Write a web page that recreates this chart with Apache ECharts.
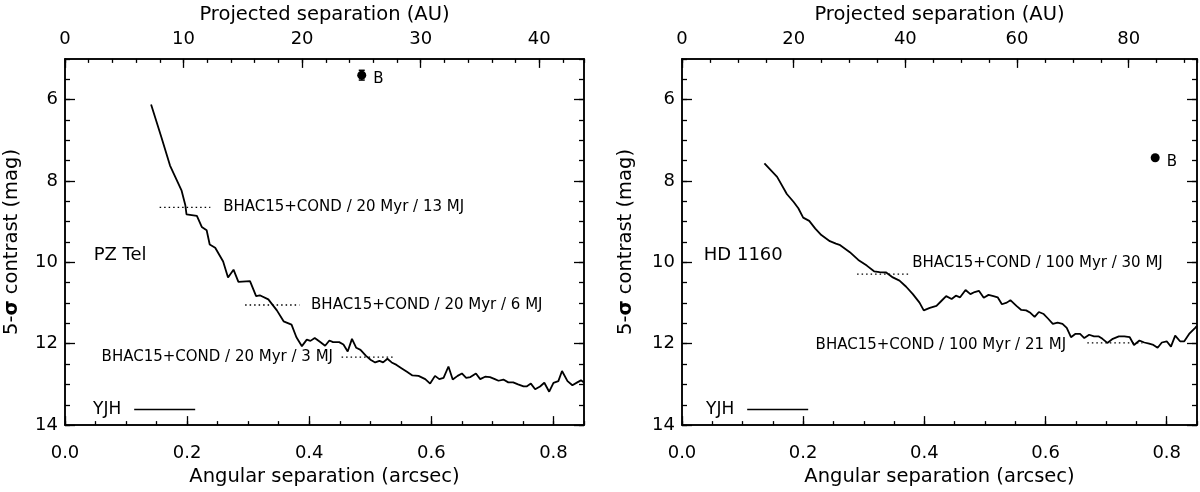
<!DOCTYPE html>
<html>
<head>
<meta charset="utf-8">
<script src="https://cdn.jsdelivr.net/npm/echarts@6/dist/echarts.min.js"></script>
<style>
  html, body { margin: 0; padding: 0; background: #fff; }
  #main { width: 1200px; height: 492px; }
</style>
</head>
<body>
<div id="main"></div>
<script>
// PZ Tel contrast curve (arcsec, mag)
let pzSep = [0.141, 0.158, 0.172, 0.191, 0.197, 0.199, 0.216, 0.224, 0.232, 0.237, 0.246, 0.259, 0.267, 0.276,
    0.284, 0.303, 0.313, 0.319, 0.333, 0.347, 0.358, 0.371, 0.379, 0.388, 0.396, 0.402, 0.409, 0.418, 0.426,
    0.433, 0.439, 0.449, 0.456, 0.463, 0.470, 0.477, 0.484, 0.493, 0.501, 0.508, 0.515, 0.521, 0.528, 0.535,
    0.543, 0.551, 0.560, 0.569, 0.579, 0.590, 0.598, 0.606, 0.613, 0.620, 0.628, 0.635, 0.643, 0.650, 0.657,
    0.664, 0.673, 0.680, 0.688, 0.696, 0.704, 0.710, 0.718, 0.726, 0.734, 0.742, 0.751, 0.756, 0.763, 0.770,
    0.778, 0.785, 0.793, 0.800, 0.808, 0.814, 0.823, 0.831, 0.839, 0.845, 0.850];
let pzMag = [6.12, 6.93, 7.62, 8.24, 8.59, 8.82, 8.86, 9.13, 9.21, 9.56, 9.64, 9.98, 10.37, 10.18,
    10.48, 10.46, 10.83, 10.81, 10.91, 11.18, 11.45, 11.53, 11.84, 12.06, 11.90, 11.93, 11.86, 11.96, 12.05,
    11.92, 11.96, 11.96, 12.02, 12.19, 11.88, 12.10, 12.15, 12.30, 12.40, 12.46, 12.42, 12.46, 12.37, 12.46,
    12.52, 12.60, 12.69, 12.78, 12.79, 12.87, 12.98, 12.79, 12.87, 12.84, 12.56, 12.88, 12.79, 12.73, 12.84,
    12.82, 12.73, 12.87, 12.81, 12.82, 12.87, 12.91, 12.88, 12.95, 12.95, 13.00, 13.05, 13.05, 12.98, 13.12,
    13.05, 12.96, 13.18, 12.96, 12.92, 12.67, 12.92, 13.02, 12.95, 12.90, 12.95];

// HD 1160 contrast curve (arcsec, mag)
let hdSep = [0.136, 0.157, 0.173, 0.184, 0.192, 0.200, 0.210, 0.220, 0.230, 0.244, 0.254, 0.260, 0.277, 0.291,
    0.305, 0.317, 0.326, 0.337, 0.348, 0.359, 0.370, 0.381, 0.392, 0.399, 0.409, 0.420, 0.428, 0.436, 0.445,
    0.452, 0.459, 0.468, 0.476, 0.483, 0.490, 0.498, 0.506, 0.514, 0.521, 0.528, 0.536, 0.542, 0.552, 0.560,
    0.568, 0.575, 0.582, 0.589, 0.597, 0.604, 0.612, 0.620, 0.628, 0.635, 0.642, 0.649, 0.657, 0.664, 0.672,
    0.680, 0.688, 0.694, 0.702, 0.711, 0.721, 0.730, 0.739, 0.746, 0.755, 0.763, 0.771, 0.778, 0.785, 0.792,
    0.800, 0.807, 0.814, 0.822, 0.829, 0.837, 0.847, 0.850];
let hdMag = [7.57, 7.90, 8.32, 8.51, 8.67, 8.90, 8.98, 9.17, 9.33, 9.48, 9.54, 9.57, 9.75, 9.94,
    10.08, 10.22, 10.24, 10.25, 10.37, 10.45, 10.60, 10.78, 10.99, 11.18, 11.12, 11.07, 10.95, 10.83, 10.90,
    10.82, 10.86, 10.68, 10.78, 10.73, 10.70, 10.87, 10.80, 10.83, 10.86, 11.03, 10.99, 10.93, 11.07, 11.17,
    11.18, 11.24, 11.34, 11.22, 11.27, 11.38, 11.51, 11.48, 11.51, 11.61, 11.84, 11.76, 11.76, 11.86, 11.78,
    11.82, 11.82, 11.88, 11.98, 11.88, 11.82, 11.82, 11.84, 12.03, 11.92, 11.97, 12.00, 12.03, 12.10, 11.97,
    11.94, 12.07, 11.80, 11.94, 11.94, 11.76, 11.61, 11.56];

// companions: [arcsec, mag, error]
let pzB = [0.486, 5.40, 0.12];
let hdB = [0.781, 7.43, 0];

// mass limits: [x from, x to, mag]
let pzLimits = [[0.155, 0.238, 8.65], [0.295, 0.384, 11.05], [0.453, 0.540, 12.33]];
let hdLimits = [[0.289, 0.376, 10.29], [0.669, 0.760, 11.98]];

// [text, x, mag, side]
let pzNotes = [
    ["BHAC15+COND / 20 Myr / 13 MJ", 0.259, 8.65, "left"],
    ["BHAC15+COND / 20 Myr / 6 MJ", 0.403, 11.05, "left"],
    ["BHAC15+COND / 20 Myr / 3 MJ", 0.439, 12.33, "right"],
];
let hdNotes = [
    ["BHAC15+COND / 100 Myr / 30 MJ", 0.380, 10.02, "left"],
    ["BHAC15+COND / 100 Myr / 21 MJ", 0.634, 12.03, "right"],
];

// axes
let sepTicks = [0, 0.2, 0.4, 0.6, 0.8];
let magTicks = [6, 8, 10, 12, 14];
let pzAuTicks = [0, 10, 20, 30, 40];
let hdAuTicks = [0, 20, 40, 60, 80];
let sepMax = 0.85;
let pzDist = 51.5;
let hdDist = 108.5;

let font = "DejaVu Sans";
let ink = "#000";

let dom = document.getElementById("main");
let myChart = echarts.init(dom, null, { renderer: "canvas" });

function xAx(grid, pos, max, ticks, minorStep, name, fmt) {
    let line = { show: true, onZero: false, lineStyle: { color: ink, width: 1.5 } };
    return [{
        type: "value", gridIndex: grid, position: pos, min: 0, max: max,
        axisLine: line,
        axisTick: { show: true, inside: true, length: 9, customValues: ticks, lineStyle: { color: ink, width: 1.3 } },
        axisLabel: {
            show: true, customValues: ticks, color: ink, fontFamily: font, fontSize: 18,
            margin: pos === "bottom" ? 19 : 11, formatter: fmt,
        },
        splitLine: { show: false },
        name: name, nameLocation: "middle", nameGap: pos === "bottom" ? 39 : 29,
        nameTextStyle: { color: ink, fontFamily: font, fontSize: 19.5 },
    }, {
        type: "value", gridIndex: grid, position: pos, min: 0, max: max, interval: minorStep,
        axisLine: line,
        axisTick: { show: true, inside: true, length: 4, lineStyle: { color: ink, width: 1.3 } },
        axisLabel: { show: false },
        splitLine: { show: false },
    }];
}

function yAx(grid, pos, labels) {
    let line = { show: true, onZero: false, lineStyle: { color: ink, width: 1.5 } };
    let major = {
        type: "value", gridIndex: grid, position: pos, min: 5, max: 14, inverse: true,
        axisLine: line,
        axisTick: { show: true, inside: true, length: 10, customValues: magTicks, lineStyle: { color: ink, width: 1.3 } },
        axisLabel: { show: labels, customValues: magTicks, color: ink, fontFamily: font, fontSize: 18, margin: 7 },
        splitLine: { show: false },
    };
    if (labels) {
        major.name = "5-{b|σ} contrast (mag)";
        major.nameLocation = "middle";
        major.nameGap = grid === 0 ? 43 : 46;
        major.nameTextStyle = {
            color: ink, fontFamily: font, fontSize: 19.5,
            rich: { b: { fontFamily: font, fontSize: 19.5, fontWeight: "bold", color: ink } },
        };
    }
    return [major, {
        type: "value", gridIndex: grid, position: pos, min: 5, max: 14, inverse: true, interval: 0.5,
        axisLine: line,
        axisTick: { show: true, inside: true, length: 5, lineStyle: { color: ink, width: 1.3 } },
        axisLabel: { show: false },
        splitLine: { show: false },
    }];
}

let sepFmt = function (v) { return v.toFixed(1); };

let xAxes = [].concat(
    xAx(0, "bottom", sepMax, sepTicks, 0.05, "Angular separation (arcsec)", sepFmt),
    xAx(0, "top", sepMax * pzDist, pzAuTicks, 2, "Projected separation (AU)"),
    xAx(1, "bottom", sepMax, sepTicks, 0.05, "Angular separation (arcsec)", sepFmt),
    xAx(1, "top", sepMax * hdDist, hdAuTicks, 5, "Projected separation (AU)")
);
let yAxes = [].concat(yAx(0, "left", true), yAx(0, "right", false), yAx(1, "left", true), yAx(1, "right", false));

function textLabel(size, pos) {
    return {
        show: true, position: pos, distance: 0, color: ink, fontFamily: font, fontSize: size,
        formatter: function (d) { return d.name; },
    };
}

function panelSeries(p, sep, mag, comp, limits, notes, target, targetX) {
    let xi = p * 4, yi = p * 4;
    let out = [];
    out.push({
        name: "YJH", type: "line", xAxisIndex: xi, yAxisIndex: yi,
        data: sep.map(function (s, i) { return [s, mag[i]]; }),
        showSymbol: false, symbol: "none", color: ink,
        lineStyle: { color: ink, width: 1.8 }, z: 3,
    });
    limits.forEach(function (l) {
        out.push({
            type: "line", xAxisIndex: xi, yAxisIndex: yi, symbol: "none",
            data: [[l[0], l[2]], [l[1], l[2]]],
            lineStyle: { color: ink, width: 1.4, type: [1.5, 3] },
        });
    });
    out.push({
        type: "scatter", xAxisIndex: xi, yAxisIndex: yi, symbolSize: 0,
        itemStyle: { opacity: 1 },
        data: notes.map(function (n) {
            return {
                value: [n[1], n[2]], name: n[0],
                label: textLabel(15, n[3] === "left" ? "right" : "left"),
            };
        }),
    });
    out.push({
        type: "scatter", xAxisIndex: xi, yAxisIndex: yi, symbolSize: 0,
        itemStyle: { opacity: 1 },
        data: [{ value: [targetX, 9.83], name: target }],
        label: textLabel(18, "right"),
    });
    out.push({
        type: "scatter", xAxisIndex: xi, yAxisIndex: yi, symbol: "circle", symbolSize: 9,
        data: [[comp[0], comp[1]]], itemStyle: { color: ink, opacity: 1 },
        label: {
            show: true, position: "right", distance: 7, offset: [0, 4], color: ink,
            fontFamily: font, fontSize: 15, formatter: "B",
        },
        z: 4,
    });
    if (comp[2] > 0) {
        out.push({
            type: "custom", xAxisIndex: xi, yAxisIndex: yi,
            data: [[comp[0], comp[1] - comp[2], comp[1] + comp[2]]],
            renderItem: function (params, api) {
                let a = api.coord([api.value(0), api.value(1)]);
                let b = api.coord([api.value(0), api.value(2)]);
                let st = { stroke: ink, lineWidth: 1.5 };
                return {
                    type: "group", children: [
                        { type: "line", shape: { x1: a[0], y1: a[1], x2: b[0], y2: b[1] }, style: st },
                        { type: "line", shape: { x1: a[0] - 3, y1: a[1], x2: a[0] + 3, y2: a[1] }, style: st },
                        { type: "line", shape: { x1: b[0] - 3, y1: b[1], x2: b[0] + 3, y2: b[1] }, style: st },
                    ],
                };
            },
        });
    }
    return out;
}

let series = [].concat(
    panelSeries(0, pzSep, pzMag, pzB, pzLimits, pzNotes, "PZ Tel", 0.047),
    panelSeries(1, hdSep, hdMag, hdB, hdLimits, hdNotes, "HD 1160", 0.036)
);

function legendAt(left) {
    return {
        left: left, top: 396, data: ["YJH"], align: "right", icon: "rect",
        itemWidth: 61, itemHeight: 1.5, selectedMode: false,
        textStyle: { color: ink, fontFamily: font, fontSize: 17, padding: [0, 8, 0, 0] },
    };
}

let option = {
    backgroundColor: "#fff",
    animation: false,
    grid: [
        { left: 65, right: 616, top: 47, bottom: 60 },
        { left: 682, right: 3, top: 47, bottom: 60 },
    ],
    legend: [legendAt(88), legendAt(701)],
    xAxis: xAxes,
    yAxis: yAxes,
    series: series,
};

if (option && typeof option === "object") {
    myChart.setOption(option);
}

window.addEventListener("resize", myChart.resize);
</script>
</body>
</html>
